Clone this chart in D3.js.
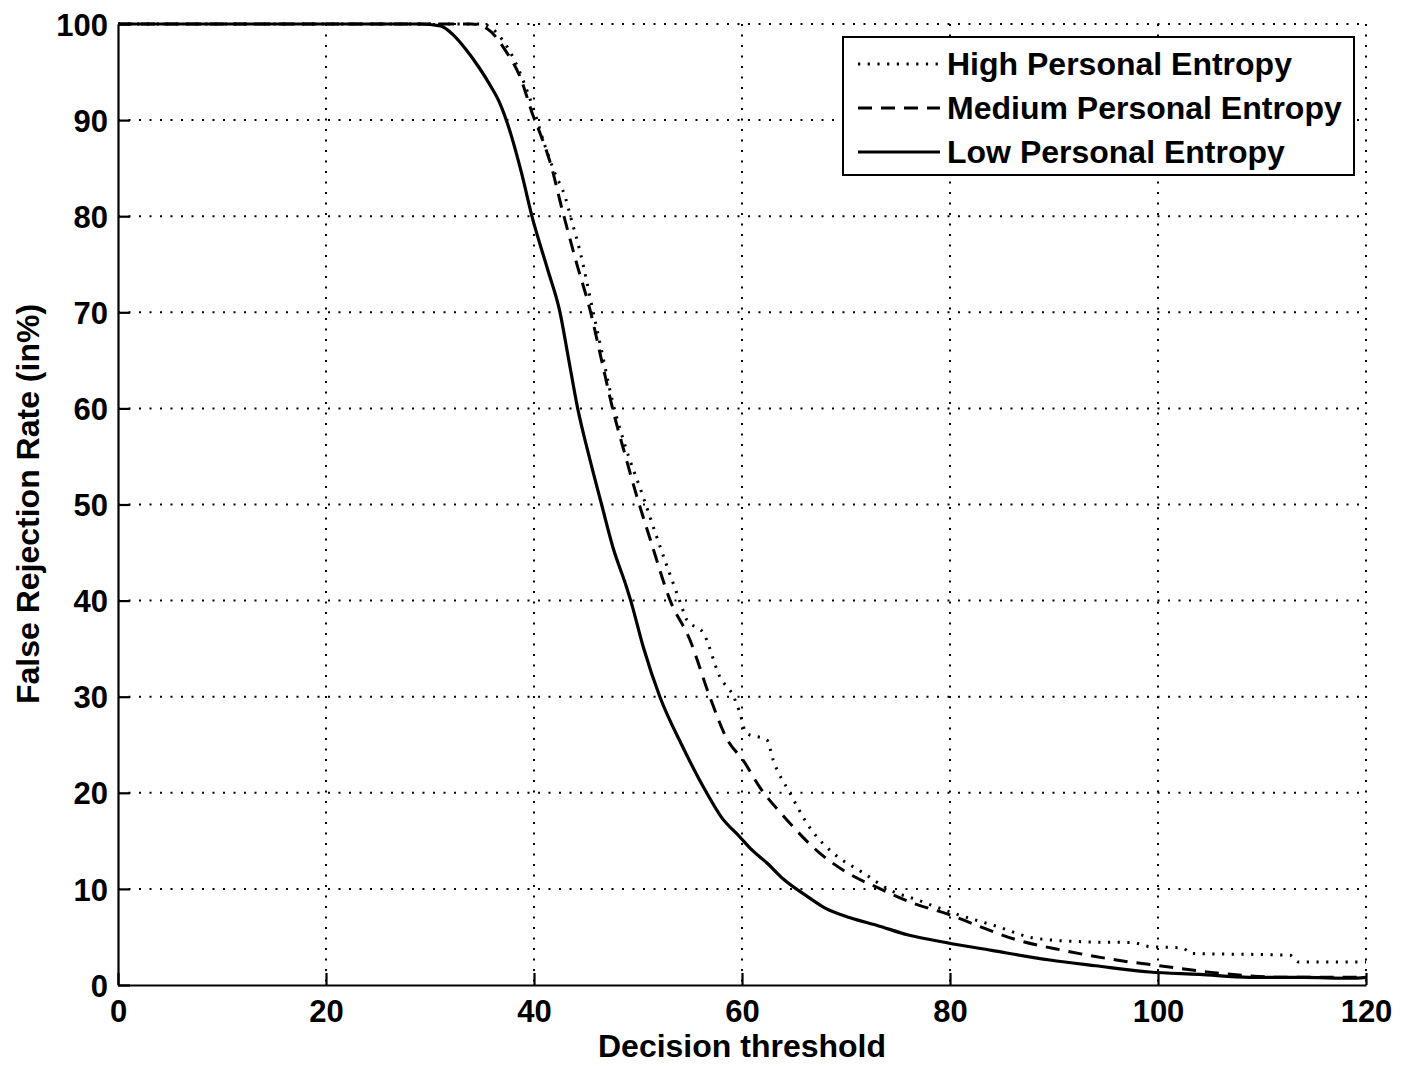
<!DOCTYPE html>
<html>
<head>
<meta charset="utf-8">
<script src="https://cdn.jsdelivr.net/npm/d3@7"></script>
<style>
  body { margin: 0; background: #fff; }
  svg text { font-family: "Liberation Sans", Arial, sans-serif; font-weight: bold; fill: #000; }
</style>
</head>
<body>
<div id="chart"></div>
<script>
// Tick values
const xTicks = [0, 20, 40, 60, 80, 100, 120];
const yTicks = [0, 10, 20, 30, 40, 50, 60, 70, 80, 90, 100];

// Series: [decision threshold, false rejection rate %]
const highEntropy = [
    [0, 100], [35, 100], [36, 99.5], [37, 98.3], [38, 96.5], [39, 94], [40, 91],
    [41, 87.5], [42, 84.5], [43, 82], [43.5, 80], [44.5, 76], [45.5, 71], [46.5, 66],
    [47.6, 60.5], [48.8, 56], [50.5, 50.8], [52, 46], [54, 40], [54.7, 38], [56.3, 36.6],
    [57.9, 32], [59.2, 30], [59.8, 28.3], [60.4, 26.2], [62.4, 25.5], [63, 23.4],
    [64.6, 20], [66.5, 16.4], [68.8, 13.7], [71.6, 11.7], [74.2, 9.9], [77, 8.8],
    [80, 7.6], [84.8, 6.0], [88, 4.9], [92.8, 4.5], [97.6, 4.4], [99.2, 4.0],
    [102.4, 3.85], [103.1, 3.3], [112.7, 3.1], [113.5, 2.4], [120, 2.4]
];
const mediumEntropy = [
    [0, 100], [34, 100], [35.5, 99.5], [37.4, 97], [38.7, 94.4], [39.9, 90.5],
    [40.7, 88.3], [41.5, 85.8], [42.8, 80.3], [44.1, 75.1], [45.4, 70.2],
    [46.5, 65], [47.6, 59.8], [48.8, 55], [49.9, 50.8], [51.2, 46.3], [53.1, 40],
    [55, 35.9], [56.9, 30], [58.6, 25.5], [60.1, 23.4], [61.7, 20.6], [64.3, 17.2],
    [67.5, 13.7], [70.1, 11.7], [73.3, 10], [76.5, 8.5], [80, 7.3], [82.6, 6.2],
    [86.4, 4.7], [90.9, 3.6], [96, 2.6], [100.9, 1.9], [105.7, 1.25], [112, 0.8], [120, 0.8]
];
const lowEntropy = [
    [0, 100], [29, 100], [31, 99.8], [32.2, 98.9], [33.5, 97.3], [34.7, 95.5], [35.8, 93.6],
    [36.7, 91.8], [37.4, 89.8], [38.8, 84.5], [39.8, 80], [41.3, 74.5], [42.5, 70],
    [43.3, 65.3], [44.2, 60], [45.3, 55], [46.5, 50], [47.6, 45.5], [48.9, 41.4], [49.3, 40],
    [50.5, 35.2], [52.1, 30], [54.2, 25], [56.6, 20], [58, 17.5], [59.8, 15.4], [61, 14],
    [62.4, 12.7], [64, 11], [66.3, 9.2], [68, 8], [70.4, 7.0], [73, 6.2], [76, 5.2],
    [79.7, 4.4], [84, 3.6], [89.6, 2.6], [94, 2], [99.2, 1.35], [104, 1.1], [108.8, 0.8],
    [114, 0.8], [118.5, 0.7], [120, 0.8]
];

const seriesNames = ['High Personal Entropy', 'Medium Personal Entropy', 'Low Personal Entropy'];

const config = {
    width: 1405,
    height: 1066,
    margin: { top: 24, right: 39, bottom: 81, left: 118 }
};

const styles = [
    { dash: '2.2,7.5', width: 3 },
    { dash: '14,9', width: 3 },
    { dash: null, width: 3.2 }
];

const width = config.width - config.margin.left - config.margin.right;
const height = config.height - config.margin.top - config.margin.bottom;

const svg = d3.select('#chart')
    .append('svg')
    .attr('width', config.width)
    .attr('height', config.height);

const g = svg.append('g')
    .attr('transform', `translate(${config.margin.left},${config.margin.top})`);

const x = d3.scaleLinear().domain([0, 120]).range([0, width]);
const y = d3.scaleLinear().domain([0, 100]).range([height, 0]);

// Dotted grid
const grid = g.append('g').attr('class', 'grid')
    .attr('stroke', '#000')
    .attr('stroke-width', 2)
    .attr('stroke-dasharray', '2,8.5');

grid.selectAll('.gx')
    .data(xTicks.filter(d => d > 0))
    .enter().append('line')
    .attr('x1', d => x(d)).attr('x2', d => x(d))
    .attr('y1', 0).attr('y2', height);

grid.selectAll('.gy')
    .data(yTicks.filter(d => d > 0))
    .enter().append('line')
    .attr('x1', 0).attr('x2', width)
    .attr('y1', d => y(d)).attr('y2', d => y(d));

// Curves
const line = d3.line()
    .curve(d3.curveMonotoneX)
    .x(d => x(d[0]))
    .y(d => y(d[1]));

[highEntropy, mediumEntropy, lowEntropy].forEach((data, i) => {
    g.append('path')
        .datum(data)
        .attr('fill', 'none')
        .attr('stroke', '#000')
        .attr('stroke-width', styles[i].width)
        .attr('stroke-linejoin', 'round')
        .attr('stroke-dasharray', styles[i].dash)
        .attr('d', line);
});

// Axes (ticks point inward, like MATLAB)
const xAxis = g.append('g')
    .attr('transform', `translate(0,${height})`)
    .call(d3.axisBottom(x).tickValues(xTicks).tickSizeInner(-12).tickSizeOuter(0).tickPadding(15));

const yAxis = g.append('g')
    .call(d3.axisLeft(y).tickValues(yTicks).tickSizeInner(-12).tickSizeOuter(0).tickPadding(10));

[xAxis, yAxis].forEach(a => {
    a.selectAll('path, line').attr('stroke', '#000').attr('stroke-width', 2.2);
    a.selectAll('text')
        .style('font-size', '31px')
        .style('font-family', '"Liberation Sans", Arial, sans-serif')
        .style('font-weight', 'bold')
        .attr('fill', '#000');
});
yAxis.selectAll('text').attr('dy', '0.36em');

// Axis labels
g.append('text')
    .attr('x', width / 2)
    .attr('y', height + 72)
    .attr('text-anchor', 'middle')
    .style('font-size', '32px')
    .text('Decision threshold');

g.append('text')
    .attr('transform', 'rotate(-90)')
    .attr('x', -480)
    .attr('y', -79)
    .attr('text-anchor', 'middle')
    .style('font-size', '32px')
    .text('False Rejection Rate (in%)');

// Legend
const lg = svg.append('g').attr('class', 'legend');
lg.append('rect')
    .attr('x', 843).attr('y', 37)
    .attr('width', 511).attr('height', 138)
    .attr('fill', '#fff')
    .attr('stroke', '#000')
    .attr('stroke-width', 2);

seriesNames.forEach((name, i) => {
    const row = lg.append('g').attr('transform', `translate(0, ${64 + i * 44})`);
    row.append('line')
        .attr('x1', 858).attr('x2', 940)
        .attr('y1', 0).attr('y2', 0)
        .attr('stroke', '#000')
        .attr('stroke-width', styles[i].width)
        .attr('stroke-dasharray', styles[i].dash);
    row.append('text')
        .attr('x', 947)
        .attr('y', 11)
        .style('font-size', '32px')
        .text(name);
});
</script>
</body>
</html>
